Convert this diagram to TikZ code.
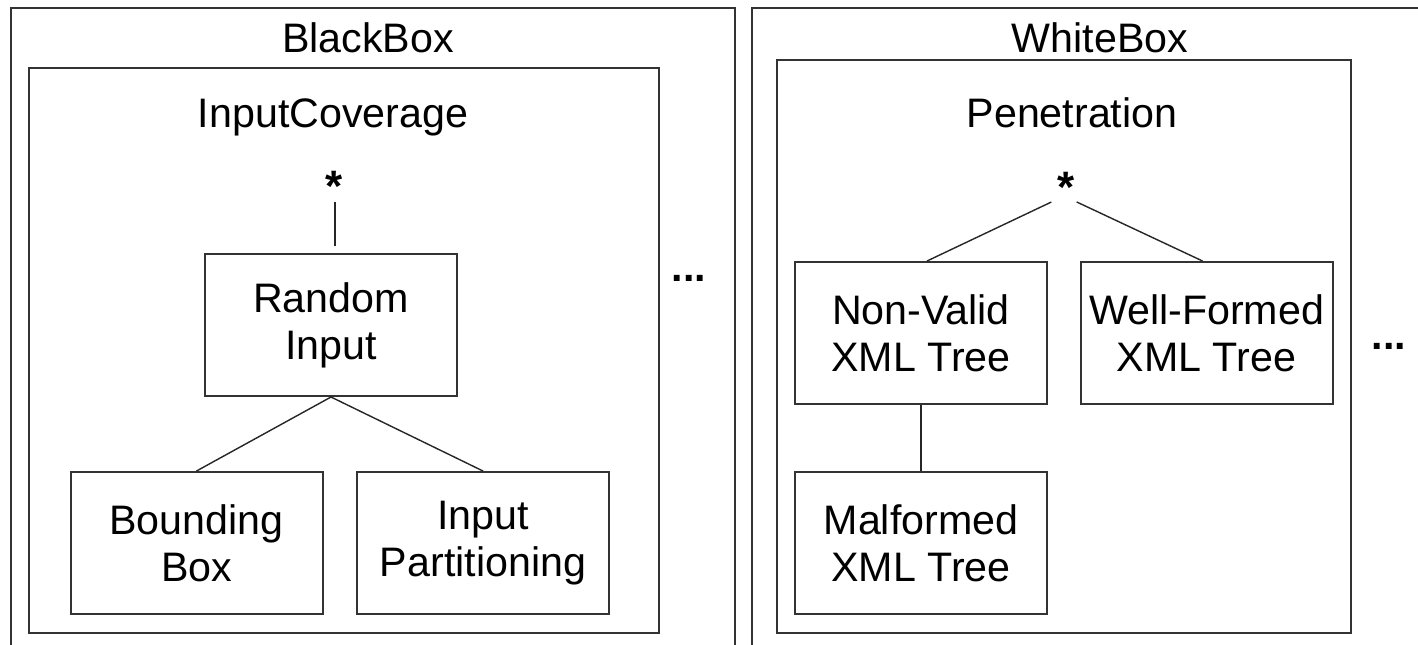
\documentclass[tikz,border=0pt]{standalone}
\usepackage{fontspec}
\setmainfont{Liberation Sans}
\begin{document}
\begin{tikzpicture}[x=0.5pt,y=-0.5pt,
  frame/.style={draw=black!80,line width=1pt},
  treebox/.style={draw=black!80,line width=1pt,rectangle,inner sep=0pt,
    minimum width=126pt,minimum height=71pt,align=center,
    font=\fontsize{20.6pt}{23.6pt}\selectfont},
  lbl/.style={inner sep=0pt,anchor=base,font=\fontsize{20.6pt}{23.6pt}\selectfont},
  starlbl/.style={inner sep=0pt,anchor=base,font=\fontsize{22pt}{24pt}\selectfont\bfseries},
  conn/.style={draw=black!85,line width=0.7pt}]
\useasboundingbox (0,0) rectangle (1418,644);
\clip (0,0) rectangle (1418,644);
\fill[white] (0,0) rectangle (1418,644);
% outer frames
\draw[frame] (11,8) rectangle (735,680);
\draw[frame] (752,8) rectangle (1480,680);
% inner frames
\draw[frame] (29,68) rectangle (659,633);
\draw[frame] (777,60) rectangle (1351,633);
% titles
\node[lbl] (tBB) at (368,52) {BlackBox};
\node[lbl] (tWB) at (1100,52) {WhiteBox};
\node[lbl] (tIC) at (333,127) {InputCoverage};
\node[lbl] (tPN) at (1072,127) {Penetration};
% stars
\node[starlbl] (sL) at (334,201) {*};
\node[starlbl] (sR) at (1066,202) {*};
\coordinate (jL) at (335,196);
\coordinate (jR) at (1064,196);
% boxes
\node[treebox] (ri) at (331,325) {Random\\Input};
\node[treebox] (bb) at (196.5,543) {Bounding\\Box};
\node[treebox] (ip) at (483,543) {Input\\Partitioning};
\node[treebox] (nv) at (921,333) {Non-Valid\\XML Tree};
\node[treebox] (wf) at (1206.5,333) {Well-Formed\\XML Tree};
\node[treebox] (mf) at (921,543) {Malformed\\XML Tree};
% ellipses
\node[lbl,font=\fontsize{20.6pt}{23.6pt}\selectfont\bfseries] (d1) at (689,281) {...};
\node[lbl,font=\fontsize{20.6pt}{23.6pt}\selectfont\bfseries] (d2) at (1389,349) {...};
% connectors
\draw[conn,shorten <=3pt,shorten >=3.5pt] (jL) -- (jL |- ri.north);
\draw[conn,shorten <=7pt] (jR) -- ([xshift=3pt]nv.north);
\draw[conn,shorten <=7pt] (jR) -- ([xshift=-2pt]wf.north);
\draw[conn] (ri.south) -- (bb.north);
\draw[conn] (ri.south) -- (ip.north);
\draw[conn] (nv.south) -- (mf.north);
\end{tikzpicture}
\end{document}
